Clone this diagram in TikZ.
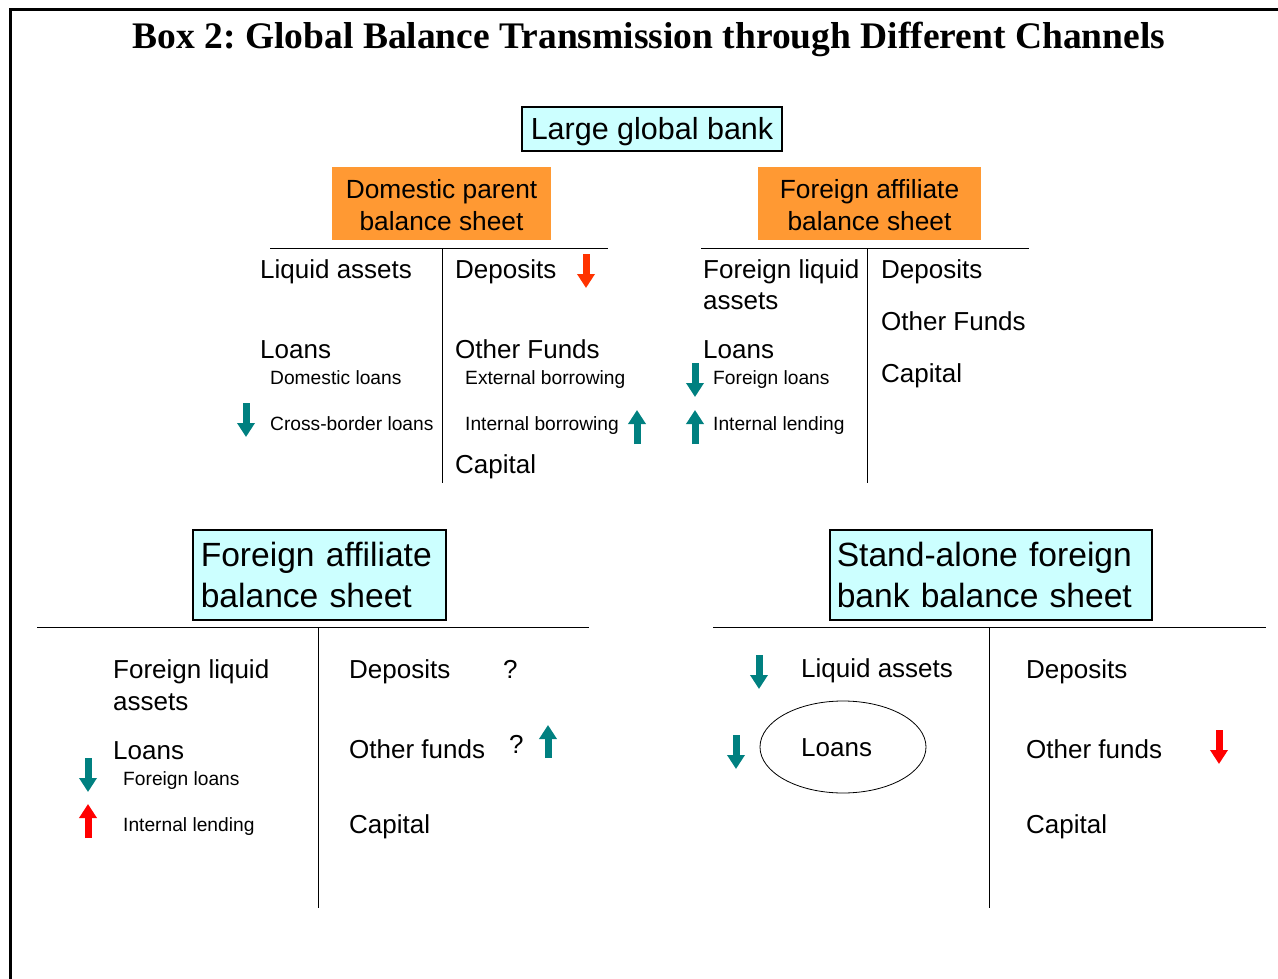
\documentclass[tikz,border=0pt]{standalone}
\usepackage{fontspec}
\setmainfont{Liberation Serif}
\newfontfamily\arial{Liberation Sans}
\usetikzlibrary{arrows.meta,shapes.geometric}
\definecolor{tealc}{HTML}{008080}
\definecolor{redA}{HTML}{FF3300}
\definecolor{redB}{HTML}{FF0000}
\definecolor{cyanbox}{HTML}{CCFFFF}
\definecolor{orangebox}{HTML}{FF9933}
\tikzset{
  main/.style={font=\arial\fontsize{26}{30}\selectfont, anchor=mid west, inner sep=0pt, yshift=-6pt},
  small/.style={font=\arial\fontsize{19.2}{23}\selectfont, anchor=mid west, inner sep=0pt, yshift=-5pt},
  tline/.style={line width=1pt},
  blockarrow/.style={line width=7pt, -{Triangle[width=17pt,length=14pt]}},
  cyanhead/.style={draw, line width=1.5pt, fill=cyanbox, anchor=north west, align=left, inner ysep=0pt,
     font=\arial\fontsize{33.6}{41}\selectfont},
  orangefill/.style={fill=orangebox, minimum width=219pt, minimum height=73pt, inner sep=0pt},
  orangetext/.style={align=center, inner sep=0pt, font=\arial\fontsize{26.3}{32}\selectfont}
}
\begin{document}
\begin{tikzpicture}[x=1pt,y=-1pt]
\useasboundingbox (0,0) rectangle (1278,979);
% frame
\draw[line width=3pt] (10,979) -- (10,10) -- (1278,10);
% title
\node[font=\frenchspacing\bfseries\fontsize{37.5}{42}\selectfont] (title) at (649,39) {Box 2: Global Balance Transmission through Different Channels};

% top boxes
\node[draw, line width=1.5pt, fill=cyanbox, minimum width=260pt, minimum height=44pt, inner sep=0pt,
      text height=22pt, text depth=0pt, font=\arial\fontsize{30.5}{36}\selectfont] (lgb) at (652,129) {Large global bank};
\node[orangefill] (dpb) at (441.5,203.5) {};
\node[orangetext] (dpbt) at ([yshift=-2pt]dpb.center) {Domestic parent\\balance sheet};
\node[orangefill, minimum width=223pt] (fab) at (869.5,203.5) {};
\node[orangetext] (fabt) at ([yshift=-2pt]fab.center) {Foreign affiliate\\balance sheet};

% top-left T account
\coordinate (tl1) at (270,248); \coordinate (tl2) at (608,248);
\coordinate (tl3) at (442,248); \coordinate (tl4) at (442,483);
\draw[tline] (tl1) -- (tl2);
\draw[tline] (tl3) -- (tl4);
\node[main] (la) at (260,270) {Liquid assets};
\node[main] (dep1) at (455,270) {Deposits};
\node[main] (loans1) at (260,350) {Loans};
\node[small] (dl) at (270,377) {Domestic loans};
\node[small] (cbl) at (270,423) {Cross-border loans};
\node[main] (of1) at (455,350) {Other Funds};
\node[small] (eb) at (465,377) {External borrowing};
\node[small] (ib) at (465,423) {Internal borrowing};
\node[main] (cap1) at (455,465) {Capital};
\draw[blockarrow, redA] (586,254) -- (586,288);
\draw[blockarrow, tealc] (246,403) -- (246,437);
\draw[blockarrow, tealc] (637,444) -- (637,410);

% top-right T account
\coordinate (tr1) at (701,248); \coordinate (tr2) at (1029,248);
\coordinate (tr3) at (867,248); \coordinate (tr4) at (867,483);
\draw[tline] (tr1) -- (tr2);
\draw[tline] (tr3) -- (tr4);
\node[main] (fla1) at (703,270) {Foreign liquid};
\node[main] (fla1b) at (703,301) {assets};
\node[main] (loans2) at (703,350) {Loans};
\node[small] (fl1) at (713,377) {Foreign loans};
\node[small] (il1) at (713,423) {Internal lending};
\node[main] (dep2) at (881,270) {Deposits};
\node[main] (of2) at (881,322) {Other Funds};
\node[main] (cap2) at (881,374) {Capital};
\draw[blockarrow, tealc] (695,363) -- (695,397);
\draw[blockarrow, tealc] (695,444) -- (695,410);

% bottom-left
\node[cyanhead, minimum width=253pt, minimum height=90pt, text width=237pt, inner xsep=8pt] (fab2) at (192,529) {Foreign affiliate\\balance sheet};
\coordinate (bl1) at (37,627); \coordinate (bl2) at (589,627);
\coordinate (bl3) at (318,627); \coordinate (bl4) at (318,908);
\draw[tline] (bl1) -- (bl2);
\draw[tline] (bl3) -- (bl4);
\node[main] (fla3) at (113,670) {Foreign liquid};
\node[main] (fla3b) at (113,702) {assets};
\node[main] (loans3) at (113,751) {Loans};
\node[small] (fl3) at (123,778) {Foreign loans};
\node[small] (il3) at (123,824) {Internal lending};
\node[main] (dep3) at (349,670) {Deposits};
\node[main] (q1) at (503,670) {?};
\node[main] (of3) at (349,750) {Other funds};
\node[main] (q2) at (509,745) {?};
\node[main] (cap3) at (349,825) {Capital};
\draw[blockarrow, tealc] (88,758) -- (88,792);
\draw[blockarrow, redB] (88,838) -- (88,804);
\draw[blockarrow, tealc] (548,758) -- (548,725);

% bottom-right
\node[cyanhead, minimum width=322pt, minimum height=90pt, text width=308pt, inner xsep=7pt] (sab) at (829,529) {Stand-alone foreign\\bank balance sheet};
\coordinate (br1) at (713,627); \coordinate (br2) at (1266,627);
\coordinate (br3) at (989,627); \coordinate (br4) at (989,908);
\draw[tline] (br1) -- (br2);
\draw[tline] (br3) -- (br4);
\node[draw, ellipse, line width=0.8pt, minimum width=166pt, minimum height=92pt] (ell) at (843,747) {};
\node[main] (la4) at (801,669) {Liquid assets};
\node[main] (loans4) at (801,748) {Loans};
\node[main] (dep4) at (1026,670) {Deposits};
\node[main] (of4) at (1026,750) {Other funds};
\node[main] (cap4) at (1026,825) {Capital};
\draw[blockarrow, tealc] (759,655) -- (759,689);
\draw[blockarrow, tealc] (736,735) -- (736,769);
\draw[blockarrow, redB] (1219,730) -- (1219,764);
\end{tikzpicture}
\end{document}
